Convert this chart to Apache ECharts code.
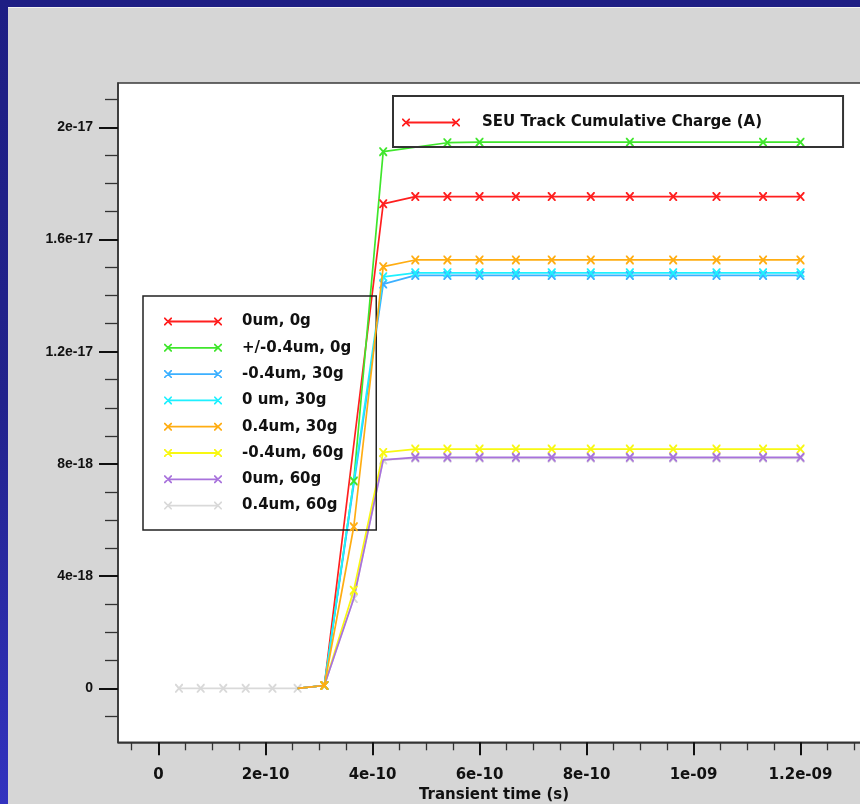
<!DOCTYPE html>
<html>
<head>
<meta charset="utf-8">
<script src="https://cdn.jsdelivr.net/npm/echarts@6/dist/echarts.min.js"></script>
<style>
  html, body { margin: 0; padding: 0; }
  body {
    width: 860px; height: 804px; overflow: hidden; position: relative;
    background: linear-gradient(180deg, #1e1e84 0%, #22228c 50%, #3232bf 100%);
  }
  #panel {
    position: absolute; left: 8px; top: 7px; right: 0; bottom: 0;
    background: #d6d6d6; border-top: 1px solid #f2f2f2;
  }
  #chart { position: absolute; left: 0; top: 0; width: 860px; height: 804px; }
</style>
</head>
<body>
<div id="panel"></div>
<div id="chart"></div>
<script>
// ---- Simulation output: cumulative SEU track charge vs. transient time ----

// Time stamps (s) for each run
const timeMain  = [2.6e-10, 3.1e-10, 4.2e-10, 4.8e-10, 5.4e-10, 6.0e-10, 6.68e-10, 7.35e-10, 8.08e-10, 8.81e-10, 9.62e-10, 1.043e-9, 1.13e-9, 1.2e-9];
const timeMid   = [2.6e-10, 3.1e-10, 3.65e-10, 4.2e-10, 4.8e-10, 5.4e-10, 6.0e-10, 6.68e-10, 7.35e-10, 8.08e-10, 8.81e-10, 9.62e-10, 1.043e-9, 1.13e-9, 1.2e-9];
const timeGreen = [2.6e-10, 3.1e-10, 3.65e-10, 4.2e-10, 5.4e-10, 6.0e-10, 8.81e-10, 1.13e-9, 1.2e-9];
const timeGray  = [3.83e-11, 7.89e-11, 1.21e-10, 1.63e-10, 2.13e-10, 2.6e-10, 3.1e-10, 3.65e-10, 4.2e-10, 4.8e-10, 5.4e-10, 6.0e-10, 6.68e-10, 7.35e-10, 8.08e-10, 8.81e-10, 9.62e-10, 1.043e-9, 1.13e-9, 1.2e-9];

// Cumulative charge (A) for each run
const q0um0g     = [0, 1e-19, 1.727e-17, 1.753e-17, 1.753e-17, 1.753e-17, 1.753e-17, 1.753e-17, 1.753e-17, 1.753e-17, 1.753e-17, 1.753e-17, 1.753e-17, 1.753e-17];
const qPm04um0g  = [0, 1e-19, 7.39e-18, 1.913e-17, 1.945e-17, 1.947e-17, 1.947e-17, 1.947e-17, 1.947e-17];
const qM04um30g  = [0, 1e-19, 1.441e-17, 1.472e-17, 1.472e-17, 1.472e-17, 1.472e-17, 1.472e-17, 1.472e-17, 1.472e-17, 1.472e-17, 1.472e-17, 1.472e-17, 1.472e-17];
const q0um30g    = [0, 1e-19, 1.467e-17, 1.481e-17, 1.481e-17, 1.481e-17, 1.481e-17, 1.481e-17, 1.481e-17, 1.481e-17, 1.481e-17, 1.481e-17, 1.481e-17, 1.481e-17];
const q04um30g   = [0, 1e-19, 5.76e-18, 1.503e-17, 1.527e-17, 1.527e-17, 1.527e-17, 1.527e-17, 1.527e-17, 1.527e-17, 1.527e-17, 1.527e-17, 1.527e-17, 1.527e-17, 1.527e-17];
const qM04um60g  = [0, 1e-19, 3.5e-18, 8.41e-18, 8.53e-18, 8.53e-18, 8.53e-18, 8.53e-18, 8.53e-18, 8.53e-18, 8.53e-18, 8.53e-18, 8.53e-18, 8.53e-18, 8.53e-18];
const q0um60g    = [0, 1e-19, 3.2e-18, 8.14e-18, 8.235e-18, 8.235e-18, 8.235e-18, 8.235e-18, 8.235e-18, 8.235e-18, 8.235e-18, 8.235e-18, 8.235e-18, 8.235e-18, 8.235e-18];
const q04um60g   = [0, 0, 0, 0, 0, 0, 1e-19, 3.2e-18, 8.14e-18, 8.2e-18, 8.2e-18, 8.2e-18, 8.2e-18, 8.2e-18, 8.2e-18, 8.2e-18, 8.2e-18, 8.2e-18, 8.2e-18, 8.2e-18];

// Run labels
const runNames = ['0um, 0g', '+/-0.4um, 0g', '-0.4um, 30g', '0 um, 30g', '0.4um, 30g', '-0.4um, 60g', '0um, 60g', '0.4um, 60g'];
const quantityName = 'SEU Track Cumulative Charge (A)';
const xTitle = 'Transient time (s)';

// Tick values
const xMajorTicks = [0, 2e-10, 4e-10, 6e-10, 8e-10, 1e-9, 1.2e-9];
const yMajorTicks = [0, 4e-18, 8e-18, 1.2e-17, 1.6e-17, 2e-17];

// Minor ticks: x every 5e-11, y every 1e-18 (between the major ones)
const xMinorTicks = [];
for (let k = -1; k <= 26; k++) if (k % 4 !== 0) xMinorTicks.push(k * 5e-11);
const yMinorTicks = [];
for (let k = -1; k <= 21; k++) if (k % 4 !== 0) yMinorTicks.push(k * 1e-18);

// ---- Presentation ----
const FONT = 'DejaVu Sans';
const X_MIN = -7.57e-11, X_MAX = 1.3299e-9;
const Y_MIN = -1.925e-18, Y_MAX = 2.1579e-17;
const GRID = { left: 118, top: 83, width: 752, height: 659.3, outerBoundsMode: 'none', containLabel: false };

const crossMark = 'path://M0,0L1.3,0L8,7.6L8,9L6.7,9L0,1.4ZM6.7,0L8,0L8,1.4L1.3,9L0,9L0,7.6Z';
const legendMark = 'path://M4,3.1H54V4.9H4Z' +
  'M0,0L1.2,0L8,6.8L8,8L6.8,8L0,1.2ZM6.8,0L8,0L8,1.2L1.2,8L0,8L0,6.8Z' +
  'M50,0L51.2,0L58,6.8L58,8L56.8,8L50,1.2ZM56.8,0L58,0L58,1.2L51.2,8L50,8L50,6.8Z';

function sci(v) {
  if (Math.abs(v) < 1e-30) return '0';
  const s = Number(v.toPrecision(4)).toExponential();
  const m = s.match(/^(-?[\d.]+)e([+-])(\d+)$/);
  if (!m) return s;
  return m[1] + 'e' + (m[2] === '-' ? '-' : '+') + m[3].padStart(2, '0');
}

const runs = [
  { name: runNames[0], color: '#ff1f1f', t: timeMain,  q: q0um0g,    z: 3, bare: 1 },
  { name: runNames[1], color: '#3fe62c', t: timeGreen, q: qPm04um0g, z: 3, bare: 1 },
  { name: runNames[2], color: '#3cb0ff', t: timeMain,  q: qM04um30g, z: 3, bare: 1 },
  { name: runNames[3], color: '#1ef0ff', t: timeMain,  q: q0um30g,   z: 3, bare: 1 },
  { name: runNames[4], color: '#ffad12', t: timeMid,   q: q04um30g,  z: 4, bare: 1 },
  { name: runNames[5], color: '#f8f812', t: timeMid,   q: qM04um60g, z: 3, bare: 1 },
  { name: runNames[6], color: '#a872dc', t: timeMid,   q: q0um60g,   z: 3, bare: 4 },
  { name: runNames[7], color: '#d9d9d9', t: timeGray,  q: q04um60g,  z: 2, bare: 0 }
];

const series = runs.map(r => ({
  type: 'line',
  name: r.name,
  xAxisIndex: 0, yAxisIndex: 0,
  z: r.z,
  data: r.t.map((t, i) => i < r.bare ? { value: [t, r.q[i]], symbol: 'none' } : [t, r.q[i]]),
  symbol: crossMark,
  symbolSize: [8, 9],
  showSymbol: true,
  showAllSymbol: true,
  lineStyle: { color: r.color, width: 1.7 },
  itemStyle: { color: r.color, borderWidth: 0 },
  emphasis: { disabled: true },
  silent: true
}));

// Quantity entry for the header legend
series.push({
  type: 'line',
  name: quantityName,
  xAxisIndex: 0, yAxisIndex: 0,
  data: [],
  symbol: crossMark,
  lineStyle: { color: '#ff1f1f', width: 1.7 },
  itemStyle: { color: '#ff1f1f', borderWidth: 0 },
  silent: true
});

const boldText = { fontFamily: FONT, fontWeight: 'bold', color: '#111' };

const option = {
  animation: false,
  backgroundColor: 'transparent',
  grid: [
    Object.assign({ show: true, backgroundColor: '#ffffff', borderColor: '#3a3a3a', borderWidth: 1.5 }, GRID),
    Object.assign({ show: false }, GRID)
  ],
  legend: [
    {
      data: [quantityName],
      left: 393, top: 96,
      orient: 'horizontal',
      icon: legendMark, itemWidth: 58, itemHeight: 8,
      padding: [19, 81, 17, 9],
      borderColor: '#333', borderWidth: 2,
      backgroundColor: 'transparent',
      selectedMode: false,
      itemStyle: { borderWidth: 0 },
      textStyle: Object.assign({ fontSize: 15, lineHeight: 15, padding: [0, 0, 0, 17] }, boldText)
    },
    {
      data: runNames,
      left: 143, top: 296,
      orient: 'vertical',
      itemGap: 11.3,
      icon: legendMark, itemWidth: 58, itemHeight: 8,
      padding: [18, 25, 17, 21],
      borderColor: '#222', borderWidth: 1.5,
      backgroundColor: 'transparent',
      selectedMode: false,
      itemStyle: { borderWidth: 0 },
      textStyle: Object.assign({ fontSize: 15, lineHeight: 15, padding: [0, 0, 0, 15] }, boldText)
    }
  ],
  xAxis: [
    {
      gridIndex: 0, type: 'value', position: 'bottom',
      min: X_MIN, max: X_MAX,
      axisLine: { show: true, onZero: false, lineStyle: { color: '#333', width: 1.5 } },
      axisTick: { show: true, customValues: xMajorTicks, length: 13, lineStyle: { color: '#111', width: 2 } },
      axisLabel: Object.assign({ customValues: xMajorTicks, formatter: sci, margin: 25, fontSize: 15 }, boldText),
      splitLine: { show: false },
      name: xTitle, nameLocation: 'middle', nameGap: 45,
      nameTextStyle: Object.assign({ fontSize: 15 }, boldText)
    },
    {
      gridIndex: 1, type: 'value', position: 'bottom',
      min: X_MIN, max: X_MAX,
      axisLine: { show: false, onZero: false },
      axisTick: { show: true, customValues: xMinorTicks, length: 8, lineStyle: { color: '#333', width: 1.3 } },
      axisLabel: { show: false },
      splitLine: { show: false }
    }
  ],
  yAxis: [
    {
      gridIndex: 0, type: 'value', position: 'left',
      min: Y_MIN, max: Y_MAX,
      axisLine: { show: true, onZero: false, lineStyle: { color: '#333', width: 1.5 } },
      axisTick: { show: true, customValues: yMajorTicks, length: 19, lineStyle: { color: '#111', width: 2 } },
      axisLabel: {
        customValues: yMajorTicks, formatter: sci, margin: 25,
        fontFamily: 'Liberation Sans', fontWeight: 'bold', fontSize: 14, color: '#111'
      },
      splitLine: { show: false }
    },
    {
      gridIndex: 1, type: 'value', position: 'left',
      min: Y_MIN, max: Y_MAX,
      axisLine: { show: false, onZero: false },
      axisTick: { show: true, customValues: yMinorTicks, length: 13, lineStyle: { color: '#333', width: 1.3 } },
      axisLabel: { show: false },
      splitLine: { show: false }
    }
  ],
  series: series
};

const chart = echarts.init(document.getElementById('chart'), null, { renderer: 'canvas' });
chart.setOption(option);
</script>
</body>
</html>
